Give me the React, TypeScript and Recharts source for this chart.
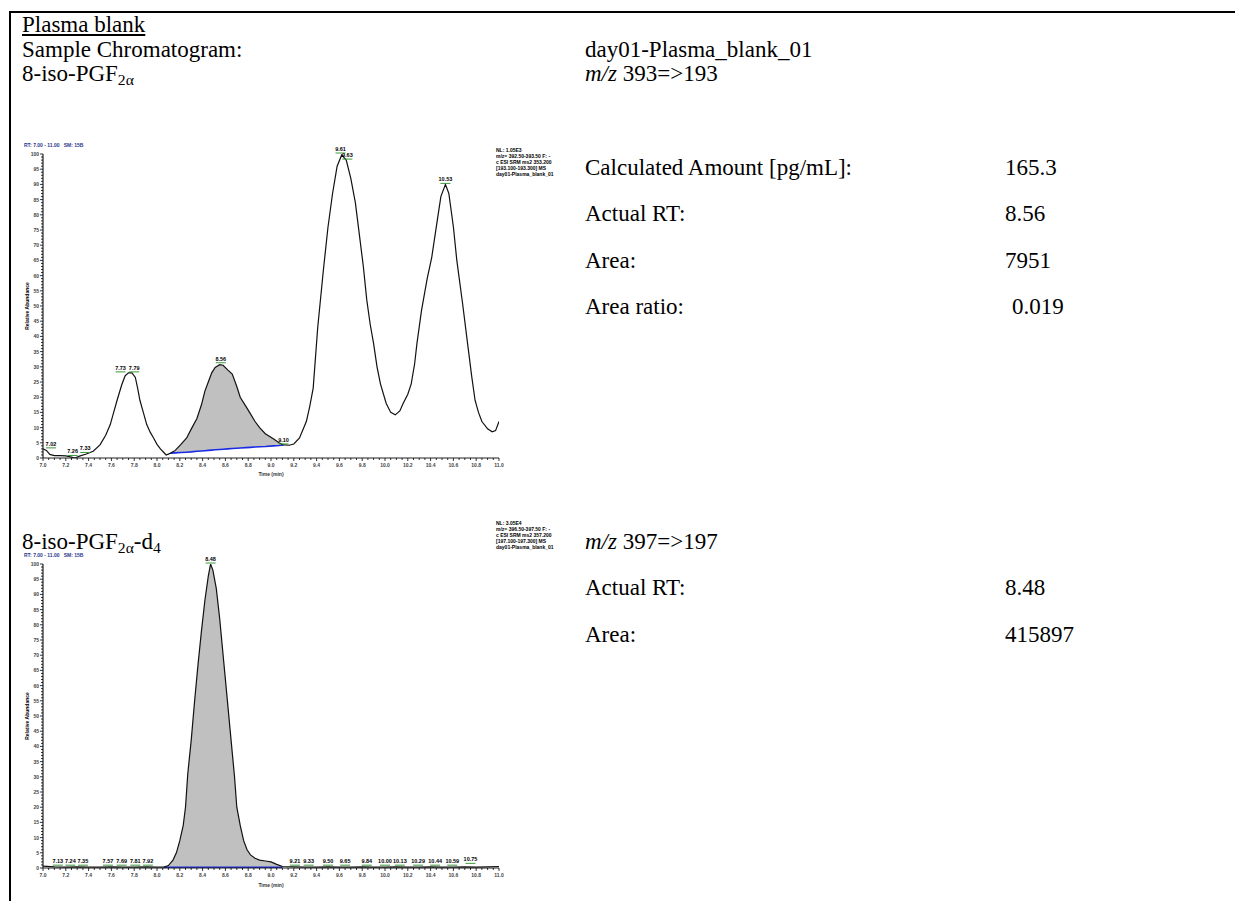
import React from "react";
import { ComposedChart, Line, Area, XAxis, YAxis, ReferenceDot } from "recharts";

// m/z 393=>193 trace (8-iso-PGF2a)
const topTime = [7.0, 7.03, 7.06, 7.1, 7.15, 7.2, 7.25, 7.28, 7.32, 7.38, 7.44, 7.5, 7.55, 7.59, 7.62, 7.65, 7.69, 7.72, 7.75, 7.78, 7.81, 7.83, 7.85, 7.88, 7.91, 7.94, 7.97, 8.0, 8.03, 8.06, 8.08, 8.12, 8.16, 8.21, 8.26, 8.3, 8.35, 8.39, 8.42, 8.45, 8.48, 8.51, 8.55, 8.58, 8.62, 8.66, 8.7, 8.73, 8.78, 8.82, 8.86, 8.9, 8.95, 9.02, 9.07, 9.11, 9.16, 9.2, 9.25, 9.31, 9.34, 9.37, 9.41, 9.46, 9.5, 9.54, 9.58, 9.62, 9.66, 9.7, 9.74, 9.78, 9.81, 9.84, 9.87, 9.9, 9.93, 9.96, 10.01, 10.05, 10.09, 10.13, 10.16, 10.2, 10.23, 10.26, 10.28, 10.32, 10.37, 10.41, 10.45, 10.49, 10.53, 10.56, 10.6, 10.63, 10.68, 10.73, 10.76, 10.79, 10.82, 10.85, 10.9, 10.94, 10.97, 11.0];
const topSignal = [3, 2.5, 1.2, 0.8, 0.8, 0.7, 0.3, 0, 0.6, 1.3, 2.2, 4.3, 7.5, 11, 15, 19, 24, 27, 28, 28, 26.5, 23, 19, 15, 11, 8.5, 6.6, 4.5, 3, 1.8, 1, 1.6, 2.5, 4.5, 6.6, 9.5, 13, 17.5, 22, 25, 28, 29.8, 30.7, 30.5, 29, 27.6, 23.5, 20, 17, 14.5, 12, 10, 8, 6.3, 5, 4.3, 4.2, 4.6, 6.6, 12, 17, 23, 43, 62, 76, 87, 96, 99.7, 98, 92, 84, 72, 63, 52, 44, 37.6, 30, 24.4, 18, 15, 14.2, 15.5, 18, 21, 24.4, 31, 37.6, 48.5, 59, 66, 76, 86, 90, 87, 76, 65, 51, 36, 27, 19, 15, 12, 9.6, 8.6, 9, 12];
// integrated peak and its baseline
const topPeakTime = [8.12, 8.16, 8.21, 8.26, 8.3, 8.35, 8.39, 8.42, 8.45, 8.48, 8.51, 8.55, 8.58, 8.62, 8.66, 8.7, 8.73, 8.78, 8.82, 8.86, 8.9, 8.95, 9.02, 9.07, 9.11];
const topPeakBase = [1.6, 1.7, 1.8, 1.9, 2.0, 2.2, 2.3, 2.4, 2.5, 2.6, 2.7, 2.8, 2.9, 3.0, 3.1, 3.2, 3.3, 3.4, 3.5, 3.6, 3.7, 3.8, 4.0, 4.1, 4.3];
const topTagTime = [7.07, 7.26, 7.37, 7.68, 7.8, 8.56, 9.11, 9.61, 9.67, 10.53];
const topTagValue = [3, 0.5, 1.5, 28, 28, 31, 4.3, 100, 98, 90];
const topTagText = ["7.02", "7.26", "7.33", "7.73", "7.79", "8.56", "9.10", "9.61", "9.63", "10.53"];

// m/z 397=>197 trace (8-iso-PGF2a-d4)
const botTime = [7.0, 7.1, 7.2, 7.3, 7.4, 7.5, 7.6, 7.7, 7.8, 7.9, 8.0, 8.06, 8.1, 8.14, 8.17, 8.2, 8.23, 8.25, 8.27, 8.3, 8.33, 8.36, 8.39, 8.42, 8.45, 8.47, 8.49, 8.52, 8.55, 8.58, 8.61, 8.65, 8.68, 8.7, 8.73, 8.76, 8.79, 8.82, 8.86, 8.9, 8.95, 9.0, 9.05, 9.1, 9.2, 9.3, 9.4, 9.5, 9.6, 9.7, 9.8, 9.9, 10.0, 10.1, 10.2, 10.3, 10.4, 10.5, 10.6, 10.7, 10.8, 10.9, 11.0];
const botSignal = [0.6, 0.4, 0.3, 0.4, 0.3, 0.3, 0.4, 0.3, 0.3, 0.4, 0.3, 0.3, 0.8, 2.6, 5, 9, 14, 20, 31, 42, 55, 67, 78, 88, 96, 100, 98, 92, 82, 70, 58, 42, 30, 20, 14, 9, 6, 4.3, 3.2, 2.6, 2.3, 2, 1.2, 0.5, 0.4, 0.3, 0.3, 0.4, 0.3, 0.3, 0.4, 0.3, 0.3, 0.4, 0.3, 0.3, 0.4, 0.3, 0.3, 0.4, 0.3, 0.4, 0.5];
const botPeakTime = [8.06, 8.1, 8.14, 8.17, 8.2, 8.23, 8.25, 8.27, 8.3, 8.33, 8.36, 8.39, 8.42, 8.45, 8.47, 8.49, 8.52, 8.55, 8.58, 8.61, 8.65, 8.68, 8.7, 8.73, 8.76, 8.79, 8.82, 8.86, 8.9, 8.95, 9.0, 9.05, 9.1];
const botPeakBase = [0.2, 0.2, 0.2, 0.2, 0.2, 0.2, 0.2, 0.2, 0.2, 0.2, 0.2, 0.2, 0.2, 0.2, 0.2, 0.2, 0.2, 0.2, 0.2, 0.2, 0.2, 0.2, 0.2, 0.2, 0.2, 0.2, 0.2, 0.2, 0.2, 0.2, 0.2, 0.2, 0.2];
const botTagTime = [7.13, 7.24, 7.35, 7.57, 7.69, 7.81, 7.92, 8.47, 9.21, 9.33, 9.5, 9.65, 9.84, 10.0, 10.13, 10.29, 10.44, 10.59, 10.75];
const botTagValue = [0.6, 0.6, 0.6, 0.6, 0.6, 0.6, 0.6, 100, 0.6, 0.6, 0.6, 0.6, 0.6, 0.6, 0.6, 0.6, 0.6, 0.6, 1.2];
const botTagText = ["7.13", "7.24", "7.35", "7.57", "7.69", "7.81", "7.92", "8.48", "9.21", "9.33", "9.50", "9.65", "9.84", "10.00", "10.13", "10.29", "10.44", "10.59", "10.75"];

const xMajor = ["7.0", "7.2", "7.4", "7.6", "7.8", "8.0", "8.2", "8.4", "8.6", "8.8", "9.0", "9.2", "9.4", "9.6", "9.8", "10.0", "10.2", "10.4", "10.6", "10.8", "11.0"];
const xTicks = Array.from({ length: 81 }, (_, i) => +(7 + i * 0.05).toFixed(2));
const yTicks = Array.from({ length: 101 }, (_, i) => i);

const topLegend = ["NL: 1.05E3", "m/z= 392.50-393.50 F: -", "c ESI SRM ms2 353.200", "[193.100-193.300] MS", "day01-Plasma_blank_01"];
const botLegend = ["NL: 3.05E4", "m/z= 396.50-397.50 F: -", "c ESI SRM ms2 357.200", "[197.100-197.300] MS", "day01-Plasma_blank_01"];

function buildRows(time: number[], signal: number[], peakTime: number[], peakBase: number[]) {
  return time.map((t, i) => {
    const k = peakTime.indexOf(t);
    if (k < 0) return { t, v: signal[i] };
    return { t, v: signal[i], shade: [peakBase[k], signal[i]], base: peakBase[k] };
  });
}

const tiny = { fontFamily: "Arial, 'Liberation Sans', sans-serif", fontWeight: 700 as const };

function XTick(p: any) {
  const { x, y, payload } = p;
  const lab = (payload.value as number).toFixed(1);
  const major = xMajor.includes(lab) && Math.abs(payload.value * 5 - Math.round(payload.value * 5)) < 1e-6;
  return (
    <g>
      <line x1={x} x2={x} y1={y} y2={y + (major ? 3 : 2)} stroke="#000" strokeWidth={0.8} />
      {major && (
        <text x={x} y={y + 9} textAnchor="middle" fontSize={5} fill="#444" {...tiny}>{lab}</text>
      )}
    </g>
  );
}

function YTick(p: any) {
  const { x, y, payload } = p;
  const v = payload.value as number;
  const major = v % 5 === 0;
  return (
    <g>
      <line x1={x - (major ? 3 : 2)} x2={x} y1={y} y2={y} stroke="#000" strokeWidth={0.8} />
      {major && (
        <text x={x - 4} y={y + 2} textAnchor="end" fontSize={5} fill="#444" {...tiny}>{v}</text>
      )}
    </g>
  );
}

function PeakTag(p: any) {
  const { cx, cy, text } = p;
  return (
    <g>
      <line x1={cx - 5} x2={cx + 5} y1={cy - 1} y2={cy - 1} stroke="#3a9a3a" strokeWidth={1} />
      <text x={cx} y={cy - 3} textAnchor="middle" fontSize={5.5} fill="#000" {...tiny}>{text}</text>
    </g>
  );
}

function Chromatogram({ top, rows, tagTime, tagValue, tagText }: any) {
  return (
    <div style={{ position: "absolute", left: 0, top, width: 520, height: 346 }}>
      <ComposedChart width={520} height={346} data={rows} margin={{ top: 14, right: 21, bottom: 16, left: 25 }}>
        <XAxis dataKey="t" type="number" domain={[7, 11]} ticks={xTicks} interval={0} tick={(p: any) => <XTick {...p} />}
          tickLine={false} tickSize={0} tickMargin={0} height={12} axisLine={{ stroke: "#222", strokeWidth: 1.2 }} allowDataOverflow />
        <YAxis type="number" domain={[0, 100]} ticks={yTicks} interval={0} tick={(p: any) => <YTick {...p} />}
          tickLine={false} tickSize={0} tickMargin={0} width={18} axisLine={{ stroke: "#222", strokeWidth: 1.2 }} allowDataOverflow />
        <Area dataKey="shade" type="linear" fill="#c0c0c0" fillOpacity={1} stroke="none" isAnimationActive={false} />
        <Line dataKey="base" type="linear" stroke="#1a2be6" strokeWidth={1.6} dot={false} isAnimationActive={false} />
        <Line dataKey="v" type="linear" stroke="#111" strokeWidth={1.2} dot={false} isAnimationActive={false} />
        {tagTime.map((t: number, i: number) => (
          <ReferenceDot key={i} x={t} y={tagValue[i]} r={0} ifOverflow="visible"
            shape={(sp: any) => <PeakTag {...sp} text={tagText[i]} />} />
        ))}
      </ComposedChart>
    </div>
  );
}

function T({ x, y, size = 23, children, style }: any) {
  return (
    <div style={{ position: "absolute", left: x, top: y, fontSize: size, lineHeight: 1, whiteSpace: "nowrap", ...style }}>
      {children}
    </div>
  );
}

function Small({ x, y, lines }: { x: number; y: number; lines: string[] }) {
  return (
    <div style={{ position: "absolute", left: x, top: y, ...tiny, fontSize: 5, lineHeight: "6px", color: "#000", whiteSpace: "nowrap" }}>
      {lines.map((l, i) => <div key={i}>{l}</div>)}
    </div>
  );
}

function AxisNames({ plotTop, plotBottom }: { plotTop: number; plotBottom: number }) {
  const mid = (plotTop + plotBottom) / 2;
  return (
    <>
      <div style={{ position: "absolute", left: 27 - 30, top: mid - 3, width: 60, textAlign: "center", transform: "rotate(-90deg)", ...tiny, fontSize: 5, lineHeight: "6px" }}>
        Relative Abundance
      </div>
      <div style={{ position: "absolute", left: 271 - 20, top: plotBottom + 14, width: 40, textAlign: "center", ...tiny, fontSize: 5, lineHeight: "6px", color: "#333" }}>
        Time (min)
      </div>
    </>
  );
}

export default function App() {
  const topRows = buildRows(topTime, topSignal, topPeakTime, topPeakBase);
  const botRows = buildRows(botTime, botSignal, botPeakTime, botPeakBase);
  const sub = { fontSize: "0.68em", verticalAlign: "-0.25em" };
  return (
    <div style={{ position: "absolute", left: 0, top: 0, width: 1235, height: 901, background: "#fff", overflow: "hidden", fontFamily: "'Liberation Serif', 'Times New Roman', serif", color: "#000" }}>
      <div style={{ position: "absolute", left: 9, top: 11, width: 1226, height: 2, background: "#000" }} />
      <div style={{ position: "absolute", left: 9, top: 11, width: 2, height: 890, background: "#000" }} />

      <T x={22} y={12.5}><span style={{ textDecoration: "underline" }}>Plasma blank</span></T>
      <T x={22} y={37.5}>Sample Chromatogram:</T>
      <T x={585} y={37.5}>day01-Plasma_blank_01</T>
      <T x={22} y={61.5}>8-iso-PGF<span style={sub}>2α</span></T>
      <T x={585} y={61.5}><i>m/z</i> 393=&gt;193</T>

      <T x={585} y={155.5}>Calculated Amount [pg/mL]:</T>
      <T x={1005} y={155.5}>165.3</T>
      <T x={585} y={201.5}>Actual RT:</T>
      <T x={1005} y={201.5}>8.56</T>
      <T x={585} y={248.5}>Area:</T>
      <T x={1005} y={248.5}>7951</T>
      <T x={585} y={294.5}>Area ratio:</T>
      <T x={1012} y={294.5}>0.019</T>

      <T x={22} y={529.5}>8-iso-PGF<span style={sub}>2α</span>-d<span style={sub}>4</span></T>
      <T x={585} y={529.5}><i>m/z</i> 397=&gt;197</T>
      <T x={585} y={575.5}>Actual RT:</T>
      <T x={1005} y={575.5}>8.48</T>
      <T x={585} y={622.5}>Area:</T>
      <T x={1005} y={622.5}>415897</T>

      <div style={{ position: "absolute", left: 24, top: 142, ...tiny, fontSize: 5, color: "#2b3a8f", whiteSpace: "nowrap" }}>RT: 7.00 - 11.00&nbsp;&nbsp;&nbsp;SM: 15B</div>
      <div style={{ position: "absolute", left: 24, top: 552, ...tiny, fontSize: 5, color: "#2b3a8f", whiteSpace: "nowrap" }}>RT: 7.00 - 11.00&nbsp;&nbsp;&nbsp;SM: 15B</div>
      <Small x={496} y={147} lines={topLegend} />
      <Small x={496} y={520} lines={botLegend} />

      <Chromatogram top={140} rows={topRows} tagTime={topTagTime} tagValue={topTagValue} tagText={topTagText} />
      <AxisNames plotTop={154} plotBottom={457} />
      <Chromatogram top={550} rows={botRows} tagTime={botTagTime} tagValue={botTagValue} tagText={botTagText} />
      <AxisNames plotTop={564} plotBottom={868} />
    </div>
  );
}
